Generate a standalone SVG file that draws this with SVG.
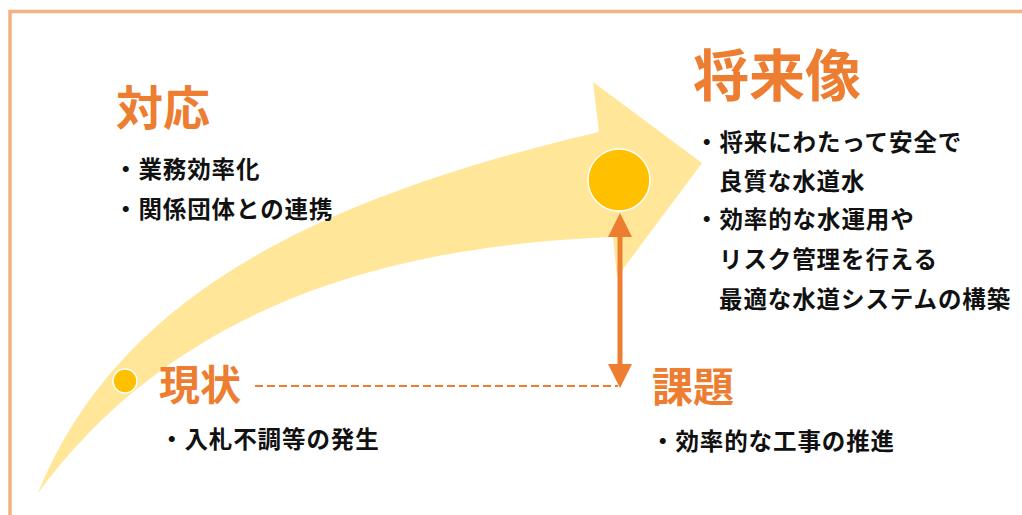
<svg xmlns="http://www.w3.org/2000/svg" width="1022" height="515" viewBox="0 0 1022 515">
<style>
.title{font-family:"Noto Sans CJK JP","Noto Sans",sans-serif;font-weight:700;fill:#ED7D31}
.body{font-family:"Noto Sans CJK JP","Noto Sans",sans-serif;font-weight:700;fill:#111;font-size:23.5px;letter-spacing:0.9px}
.dot{fill:#FFC000;stroke:#fff;stroke-width:1.5}
</style>
<defs>
<marker id="ah" viewBox="0 0 24 24" markerWidth="24" markerHeight="24" refX="6" refY="12" orient="auto-start-reverse" markerUnits="userSpaceOnUse">
<path d="M0,0 L24,12 L0,24 Z" fill="#ED7D31"/>
</marker>
</defs>
<rect x="0" y="0" width="1022" height="515" fill="#fff"/>
<rect x="10" y="11.5" width="1040" height="530" fill="none" stroke="#F4B183" stroke-width="3.5"/>
<g id="big-arrow">
<path d="M38,493 C120,290 330,195 599,132 L593,82 L702,163 L617,277 L613,237 C400,245 180,300 38,493 Z" fill="#FFE699"/>
</g>
<g id="connectors">
<line x1="255" y1="386" x2="618" y2="386" stroke="#ED7D31" stroke-width="2" stroke-dasharray="8 4"/>
<line x1="620" y1="231" x2="620" y2="370" stroke="#ED7D31" stroke-width="5" marker-start="url(#ah)" marker-end="url(#ah)"/>
</g>
<g id="node-taio">
<text class="title" x="116" y="125" font-size="47">対応</text>
<text class="body" x="114" y="178">・業務効率化</text>
<text class="body" x="114" y="218">・関係団体との連携</text>
</g>
<g id="node-shorai">
<circle class="dot" cx="619" cy="180" r="31"/>
<text class="title" x="693" y="96" font-size="56">将来像</text>
<text class="body" x="695" y="151">・将来にわたって安全で</text>
<text class="body" x="719" y="190">良質な水道水</text>
<text class="body" x="695" y="228">・効率的な水運用や</text>
<text class="body" x="719" y="268">リスク管理を行える</text>
<text class="body" x="719" y="308">最適な水道システムの構築</text>
</g>
<g id="node-genjo">
<circle class="dot" cx="125" cy="381" r="12"/>
<text class="title" x="159" y="400" font-size="41">現状</text>
<text class="body" x="160" y="448">・入札不調等の発生</text>
</g>
<g id="node-kadai">
<text class="title" x="652" y="402" font-size="41">課題</text>
<text class="body" x="651" y="450">・効率的な工事の推進</text>
</g>
</svg>
